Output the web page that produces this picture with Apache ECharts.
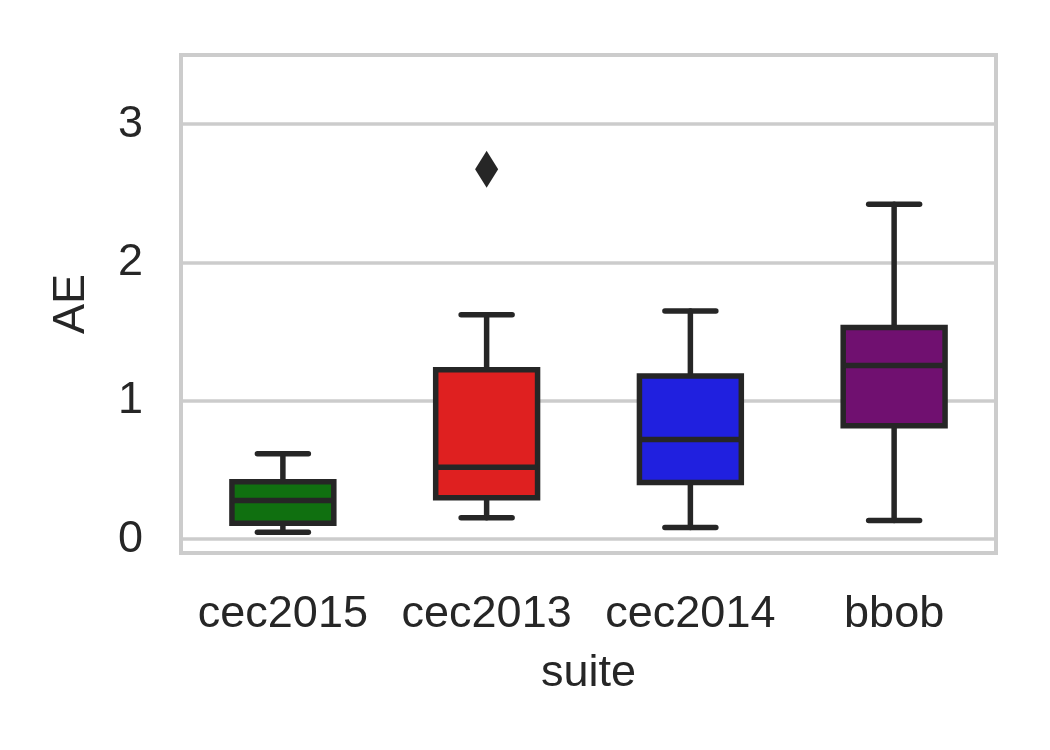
<!DOCTYPE html>
<html>
<head>
<meta charset="utf-8">
<script src="https://cdn.jsdelivr.net/npm/echarts@6/dist/echarts.min.js"></script>
<style>html,body{margin:0;padding:0;background:#fff}#c{width:1050px;height:750px}</style>
</head>
<body>
<div id="c"></div>
<script>
const categories = ['cec2015', 'cec2013', 'cec2014', 'bbob'];
const lowerWhisker = [0.050, 0.155, 0.085, 0.135];
const q1 = [0.115, 0.300, 0.410, 0.820];
const median = [0.280, 0.520, 0.720, 1.255];
const q3 = [0.415, 1.225, 1.180, 1.530];
const upperWhisker = [0.617, 1.622, 1.650, 2.421];
const outliers = [['cec2013', 2.675]];
const boxColors = ['#107010', '#df2020', '#2020df', '#701070'];
const yTicks = [0, 1, 2, 3];

const edge = '#262626';
const lw = 5.5;
const font = 'Liberation Sans, Arial, sans-serif';
const fs = 45;

const boxData = categories.map((c, i) => [i, lowerWhisker[i], q1[i], median[i], q3[i], upperWhisker[i]]);

const chart = echarts.init(document.getElementById('c'), null, {renderer: 'canvas'});
chart.setOption({
  backgroundColor: '#ffffff',
  animation: false,
  grid: {left: 181, top: 55, width: 815, height: 498, show: true, borderColor: '#cccccc', borderWidth: 4, backgroundColor: '#ffffff'},
  xAxis: {
    type: 'category', data: categories,
    name: 'suite', nameLocation: 'middle', nameGap: 98,
    nameTextStyle: {fontFamily: font, fontSize: fs, color: edge},
    axisLine: {show: false}, axisTick: {show: false},
    axisLabel: {fontFamily: font, fontSize: fs, color: edge, margin: 39, interval: 0},
    splitLine: {show: false}
  },
  yAxis: {
    type: 'value', min: -0.1, max: 3.5,
    name: 'AE', nameLocation: 'middle', nameGap: 87,
    nameTextStyle: {fontFamily: font, fontSize: fs, color: edge},
    axisLine: {show: false}, axisTick: {show: false},
    axisLabel: {fontFamily: font, fontSize: fs, color: edge, margin: 38, showMinLabel: false, showMaxLabel: false,
      formatter: v => (yTicks.indexOf(v) >= 0 ? String(v) : '')},
    splitLine: {show: true, lineStyle: {color: '#cccccc', width: 3.5}}
  },
  series: [
    {
      type: 'custom',
      data: boxData,
      encode: {x: 0, y: [1, 2, 3, 4, 5]},
      renderItem: function (params, api) {
        const i = api.value(0);
        const band = api.size([1, 0])[0];
        const cx = api.coord([i, 0])[0];
        const yLow = api.coord([i, api.value(1)])[1];
        const yQ1 = api.coord([i, api.value(2)])[1];
        const yMed = api.coord([i, api.value(3)])[1];
        const yQ3 = api.coord([i, api.value(4)])[1];
        const yHigh = api.coord([i, api.value(5)])[1];
        const bw = band * 0.5;
        const cw = band * 0.25;
        const ls = {stroke: edge, lineWidth: lw, lineCap: 'round'};
        return {
          type: 'group',
          children: [
            {type: 'line', shape: {x1: cx, y1: yQ1, x2: cx, y2: yLow}, style: ls},
            {type: 'line', shape: {x1: cx, y1: yQ3, x2: cx, y2: yHigh}, style: ls},
            {type: 'line', shape: {x1: cx - cw / 2, y1: yLow, x2: cx + cw / 2, y2: yLow}, style: ls},
            {type: 'line', shape: {x1: cx - cw / 2, y1: yHigh, x2: cx + cw / 2, y2: yHigh}, style: ls},
            {type: 'rect', shape: {x: cx - bw / 2, y: yQ3, width: bw, height: yQ1 - yQ3},
              style: {fill: boxColors[i], stroke: edge, lineWidth: lw}},
            {type: 'line', shape: {x1: cx - bw / 2, y1: yMed, x2: cx + bw / 2, y2: yMed},
              style: {stroke: edge, lineWidth: lw, lineCap: 'butt'}}
          ]
        };
      },
      z: 3
    },
    {
      type: 'scatter',
      data: outliers,
      symbol: 'diamond',
      symbolSize: [23, 37],
      itemStyle: {color: edge, opacity: 1},
      z: 4
    }
  ]
});
</script>
</body>
</html>
